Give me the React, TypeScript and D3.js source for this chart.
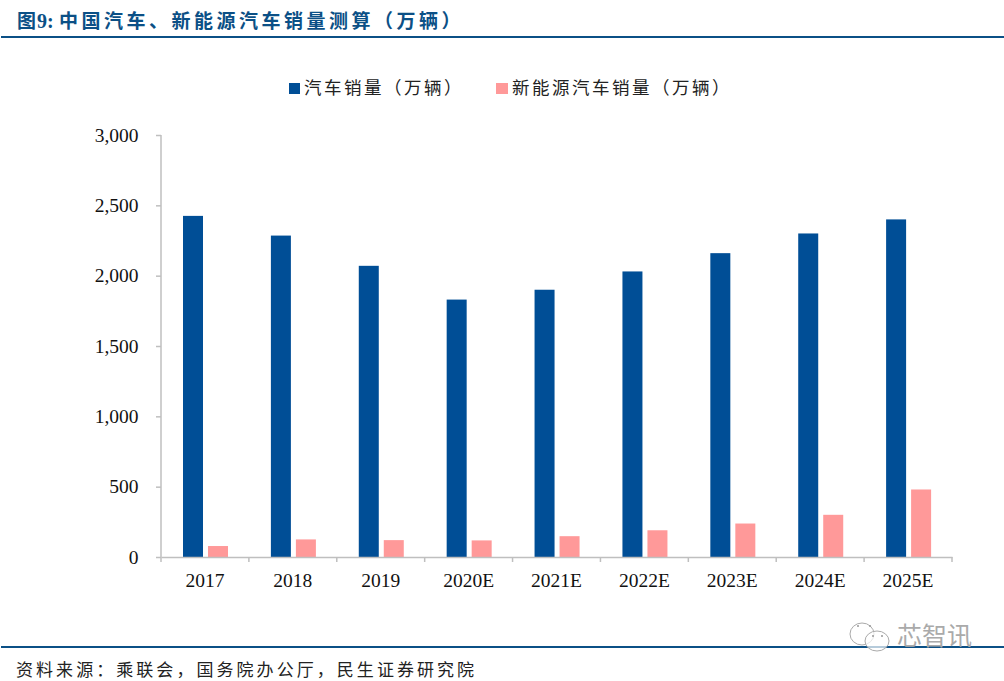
import { axisBottom, axisLeft, format, scaleBand, scaleLinear, select } from "d3";
import { useEffect, useRef } from "react";

const years = ["2017", "2018", "2019", "2020E", "2021E", "2022E", "2023E", "2024E", "2025E"];
const autoSales = [2425, 2285, 2070, 1830, 1900, 2030, 2160, 2300, 2400];
const nevSales = [78, 125, 120, 118, 148, 190, 238, 300, 480];
const yTicks = [0, 500, 1000, 1500, 2000, 2500, 3000];
const seriesNames = ["汽车销量（万辆）", "新能源汽车销量（万辆）"];

const blue = "#004e96";
const pink = "#ff9999";
const rule = "#0b5086";
const cjk = '"Noto Sans CJK SC", serif';
const width = 1004;
const height = 681;

function App() {
  const axisRef = useRef<SVGGElement>(null);

  const x = scaleBand().domain(years).range([161, 952]);
  const inner = scaleBand().domain(["auto", "nev"]).range([22, 67]).paddingInner(0.2);
  const y = scaleLinear().domain([0, 3000]).range([557, 135]);

  useEffect(() => {
    const g = select(axisRef.current);
    g.selectAll("*").remove();

    const left = g.append("g").attr("transform", "translate(161,0)").call(
      axisLeft(y).tickValues(yTicks).tickFormat(format(",") as any).tickSize(5).tickPadding(17.5)
    );
    const bottom = g.append("g").attr("transform", "translate(0,557)").call(
      axisBottom(x).tickSize(0).tickPadding(16)
    );
    // ticks sit between the categories, not under them
    bottom.selectAll(".sep")
      .data([...years.map((d) => x(d) as number), 952])
      .join("line")
      .attr("x1", (d) => d)
      .attr("x2", (d) => d)
      .attr("y1", 0)
      .attr("y2", 5)
      .attr("stroke", "#bfbfbf")
      .attr("stroke-width", 1.5);

    g.selectAll(".domain, .tick line").attr("stroke", "#bfbfbf").attr("stroke-width", 1.5);
    g.selectAll("text")
      .attr("font-family", '"Liberation Serif", serif')
      .attr("font-size", 19.5)
      .attr("fill", "#111");
    left.select(".domain").attr("d", "M0,135V557");
  }, []);

  return (
    <svg
      width={width}
      height={height}
      style={{ position: "absolute", left: 0, top: 0, background: "#fff" }}
    >
      <text y={28} fontWeight={700} fill={rule}>
        <tspan x={17} fontFamily={cjk} fontSize={19}>图</tspan>
        <tspan x={37} fontFamily='"Liberation Serif", serif' fontSize={20}>9:</tspan>
        <tspan x={59} fontFamily={cjk} fontSize={19} letterSpacing={3.5}>中国汽车、新能源汽车销量测算（万辆）</tspan>
      </text>
      <line x1={1} x2={1004} y1={37} y2={37} stroke={rule} strokeWidth={2} />

      <rect x={289} y={83} width={11} height={11} fill={blue} />
      <text x={304} y={94} fontFamily={cjk} fontSize={17.5} fill="#222" letterSpacing={2.5}>
        {seriesNames[0]}
      </text>
      <rect x={496} y={83} width={12} height={11} fill={pink} />
      <text x={512} y={94} fontFamily={cjk} fontSize={17.5} fill="#222" letterSpacing={2.5}>
        {seriesNames[1]}
      </text>

      {years.map((year, i) => (
        <g key={year} transform={`translate(${x(year)},0)`}>
          <rect
            x={inner("auto")}
            y={y(autoSales[i])}
            width={inner.bandwidth()}
            height={y(0) - y(autoSales[i])}
            fill={blue}
          />
          <rect
            x={inner("nev")}
            y={y(nevSales[i])}
            width={inner.bandwidth()}
            height={y(0) - y(nevSales[i])}
            fill={pink}
          />
        </g>
      ))}
      <g ref={axisRef} />

      <line x1={1} x2={1004} y1={647} y2={647} stroke={rule} strokeWidth={2} />
      <text x={16} y={676} fontFamily={cjk} fontSize={17} fill="#222" letterSpacing={3.05}>
        资料来源：乘联会，国务院办公厅，民生证券研究院
      </text>

      {/* watermark */}
      <g fill="#fff" fillOpacity={0.7} stroke="#aaa" strokeWidth={1}>
        <ellipse cx={862} cy={634} rx={12} ry={11} />
        <ellipse cx={877} cy={641} rx={12} ry={10} />
      </g>
      <g fill="#999">
        <circle cx={858} cy={626} r={1} />
        <circle cx={870} cy={626} r={1} />
        <circle cx={873} cy={636} r={1} />
        <circle cx={882} cy={636} r={1} />
      </g>
      <text x={897} y={645} fontFamily="Noto Sans CJK SC" fontSize={25} fill="#aaa">
        芯智讯
      </text>
    </svg>
  );
}

export default App;
